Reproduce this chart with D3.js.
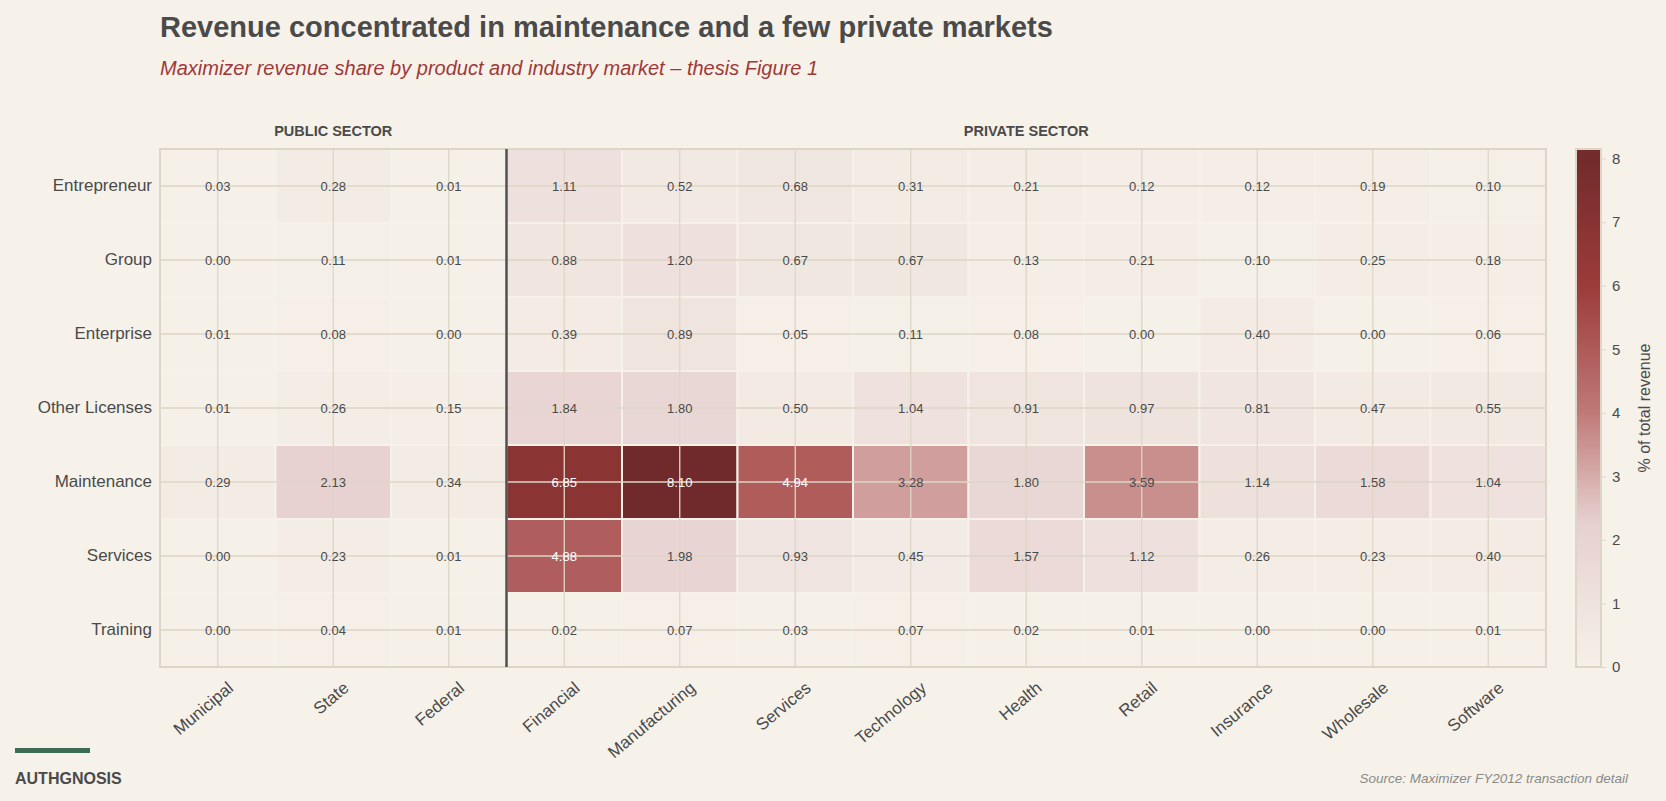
<!DOCTYPE html>
<html>
<head>
<meta charset="utf-8">
<script src="https://cdn.jsdelivr.net/npm/d3@7"></script>
<style>
  body { margin: 0; background: #f6f2ea; }
  text { font-family: "Liberation Sans", Arial, sans-serif; }
</style>
</head>
<body>
<svg id="chart" width="1666" height="801"></svg>
<script>
/* Data
======================================================================= */
var products = ['Entrepreneur', 'Group', 'Enterprise', 'Other Licenses', 'Maintenance', 'Services', 'Training'],
    publicMarkets = ['Municipal', 'State', 'Federal'],
    privateMarkets = ['Financial', 'Manufacturing', 'Services', 'Technology', 'Health', 'Retail', 'Insurance', 'Wholesale', 'Software'],
    colorTicks = [0, 1, 2, 3, 4, 5, 6, 7, 8];

// One row per product, columns follow publicMarkets then privateMarkets
var shares = [
  [0.03, 0.28, 0.01, 1.11, 0.52, 0.68, 0.31, 0.21, 0.12, 0.12, 0.19, 0.10],
  [0.00, 0.11, 0.01, 0.88, 1.20, 0.67, 0.67, 0.13, 0.21, 0.10, 0.25, 0.18],
  [0.01, 0.08, 0.00, 0.39, 0.89, 0.05, 0.11, 0.08, 0.00, 0.40, 0.00, 0.06],
  [0.01, 0.26, 0.15, 1.84, 1.80, 0.50, 1.04, 0.91, 0.97, 0.81, 0.47, 0.55],
  [0.29, 2.13, 0.34, 6.85, 8.10, 4.94, 3.28, 1.80, 3.59, 1.14, 1.58, 1.04],
  [0.00, 0.23, 0.01, 4.88, 1.98, 0.93, 0.45, 1.57, 1.12, 0.26, 0.23, 0.40],
  [0.00, 0.04, 0.01, 0.02, 0.07, 0.03, 0.07, 0.02, 0.01, 0.00, 0.00, 0.01]
];

/* Layout
======================================================================= */
var svg = d3.select('#chart'),
    m = { left: 160, right: 1546, top: 149, bottom: 667 },
    markets = publicMarkets.concat(privateMarkets),
    cols = markets.map(function(d, i) { return i; });

var x = d3.scaleBand().domain(cols).range([m.left, m.right]),
    y = d3.scaleBand().domain(products).range([m.top, m.bottom]);

var color = d3.scaleLinear()
  .domain([0, 1, 2.3, 4, 6, 8.15])
  .range(['#f5f0e8', '#efe3de', '#e6cfcf', '#bf7a78', '#9c3b3a', '#702a2b'])
  .clamp(true);

svg.append('rect').attr('width', 1666).attr('height', 801).attr('fill', '#f6f2ea');
svg.append('rect')
  .attr('x', m.left).attr('y', m.top)
  .attr('width', m.right - m.left).attr('height', m.bottom - m.top)
  .attr('fill', '#f5f1e8');

// Cells
var cells = [];
shares.forEach(function(row, r) {
  row.forEach(function(v, c) { cells.push({ p: products[r], c: c, v: v }); });
});

svg.append('g').selectAll('rect').data(cells).enter().append('rect')
  .attr('x', function(d) { return x(d.c); })
  .attr('y', function(d) { return y(d.p); })
  .attr('width', x.bandwidth()).attr('height', y.bandwidth())
  .attr('fill', function(d) { return color(d.v); })
  .attr('stroke', '#f6f2ea').attr('stroke-width', 2);

// Grid through cell centres
var grid = svg.append('g').attr('stroke', '#ddd6c6').attr('stroke-width', 1.3);
cols.forEach(function(c) {
  grid.append('line').attr('x1', x(c) + x.bandwidth() / 2).attr('x2', x(c) + x.bandwidth() / 2)
    .attr('y1', m.top).attr('y2', m.bottom);
});
products.forEach(function(p) {
  grid.append('line').attr('y1', y(p) + y.bandwidth() / 2).attr('y2', y(p) + y.bandwidth() / 2)
    .attr('x1', m.left).attr('x2', m.right);
});

// Cell labels
svg.append('g').selectAll('text').data(cells).enter().append('text')
  .attr('x', function(d) { return x(d.c) + x.bandwidth() / 2; })
  .attr('y', function(d) { return y(d.p) + y.bandwidth() / 2; })
  .attr('dy', '0.35em').attr('text-anchor', 'middle')
  .style('font-size', '13px')
  .attr('fill', function(d) { return d.v > 4 ? '#ffffff' : '#4a4a4a'; })
  .text(function(d) { return d.v.toFixed(2); });

// Frame
svg.append('rect')
  .attr('x', m.left).attr('y', m.top)
  .attr('width', m.right - m.left).attr('height', m.bottom - m.top)
  .attr('fill', 'none').attr('stroke', '#ddd6c6').attr('stroke-width', 2);

// Sector divider
var divX = x(publicMarkets.length);
svg.append('line').attr('x1', divX).attr('x2', divX).attr('y1', m.top).attr('y2', m.bottom)
  .attr('stroke', '#505050').attr('stroke-width', 2.5);

// Axes
var yAxis = svg.append('g').attr('transform', 'translate(' + m.left + ',0)')
  .call(d3.axisLeft(y).tickSize(0).tickPadding(8));
yAxis.select('.domain').remove();
yAxis.selectAll('text').style('font-size', '17px').attr('fill', '#4a4a4a');

var xAxis = svg.append('g').attr('transform', 'translate(0,' + m.bottom + ')')
  .call(d3.axisBottom(x).tickSize(0).tickFormat(function(i) { return markets[i]; }));
xAxis.select('.domain').remove();
xAxis.selectAll('text')
  .style('font-size', '17px').attr('fill', '#4a4a4a')
  .attr('text-anchor', 'end')
  .attr('transform', 'translate(6,10) rotate(-40)')
  .attr('dy', '0.8em');

// Sector labels
svg.append('text').attr('x', (m.left + divX) / 2).attr('y', 136).attr('text-anchor', 'middle')
  .style('font-size', '14.5px').style('font-weight', 'bold').attr('fill', '#4a4a4a').text('PUBLIC SECTOR');
svg.append('text').attr('x', (divX + m.right) / 2).attr('y', 136).attr('text-anchor', 'middle')
  .style('font-size', '14.5px').style('font-weight', 'bold').attr('fill', '#4a4a4a').text('PRIVATE SECTOR');

// Colour bar
var cb = { x: 1576, w: 25 },
    cy = d3.scaleLinear().domain([0, 8.15]).range([m.bottom, m.top]),
    grad = svg.append('defs').append('linearGradient').attr('id', 'cbg')
      .attr('x1', 0).attr('x2', 0).attr('y1', 1).attr('y2', 0);
d3.range(0, 8.16, 0.25).forEach(function(v) {
  grad.append('stop').attr('offset', v / 8.15).attr('stop-color', color(v));
});
svg.append('rect').attr('x', cb.x).attr('y', m.top).attr('width', cb.w).attr('height', m.bottom - m.top)
  .attr('fill', 'url(#cbg)').attr('stroke', '#ddd6c6').attr('stroke-width', 2);
var cAxis = svg.append('g').attr('transform', 'translate(' + (cb.x + cb.w) + ',0)')
  .call(d3.axisRight(cy).tickValues(colorTicks).tickSize(5).tickPadding(6));
cAxis.select('.domain').remove();
cAxis.selectAll('line').attr('stroke', '#ddd6c6');
cAxis.selectAll('text').style('font-size', '15px').attr('fill', '#4a4a4a');
svg.append('text').attr('transform', 'translate(1650,' + ((m.top + m.bottom) / 2) + ') rotate(-90)')
  .attr('text-anchor', 'middle').style('font-size', '16px').attr('fill', '#4a4a4a').text('% of total revenue');

// Titles
svg.append('text').attr('x', 160).attr('y', 37).style('font-size', '29px').style('font-weight', 'bold')
  .attr('fill', '#4a4a4a').text('Revenue concentrated in maintenance and a few private markets');
svg.append('text').attr('x', 160).attr('y', 75).style('font-size', '20px').style('font-style', 'italic')
  .attr('fill', '#a03838').text('Maximizer revenue share by product and industry market \u2013 thesis Figure 1');

// Footer
svg.append('rect').attr('x', 15).attr('y', 748).attr('width', 75).attr('height', 5).attr('fill', '#3e6b54');
svg.append('text').attr('x', 15).attr('y', 784).style('font-size', '16px').style('font-weight', 'bold')
  .attr('fill', '#4a4a4a').text('AUTHGNOSIS');
svg.append('text').attr('x', 1628).attr('y', 783).attr('text-anchor', 'end').style('font-size', '13.5px')
  .style('font-style', 'italic').attr('fill', '#8a8a8a').text('Source: Maximizer FY2012 transaction detail');
</script>
</body>
</html>
